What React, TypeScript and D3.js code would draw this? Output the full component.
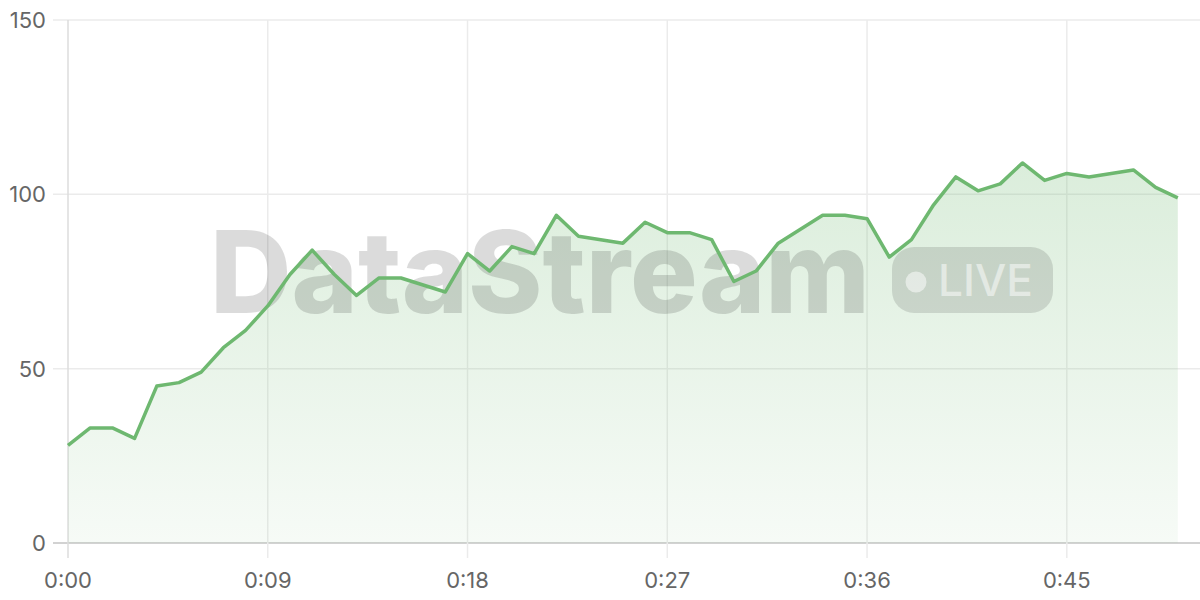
import React from "react";
import * as d3 from "d3";

const seconds: number[] = d3.range(0, 51);
const values: number[] = [
  28, 33, 33, 30, 45, 46, 49, 56, 61, 68,
  77, 84, 77, 71, 76, 76, 74, 72, 83, 78,
  85, 83, 94, 88, 87, 86, 92, 89, 89, 87,
  75, 78, 86, 90, 94, 94, 93, 82, 87, 97,
  105, 101, 103, 109, 104, 106, 105, 106, 107, 102,
  99,
];
const xTicks: number[] = [0, 9, 18, 27, 36, 45];
const yTicks: number[] = [0, 50, 100, 150];
const watermark = "DataStream";
const badge = "LIVE";

const W = 1200;
const H = 600;
const FONT = "Inter, 'Noto Sans', 'DejaVu Sans', sans-serif";

function fmt(s: number): string {
  const m = Math.floor(s / 60);
  const r = s % 60;
  return `${m}:${String(r).padStart(2, "0")}`;
}

export default function App() {
  const x = d3.scaleLinear().domain([0, 51]).range([68, 1200]);
  const y = d3.scaleLinear().domain([0, 150]).range([543, 20]);
  const data = seconds.map((s, i) => ({ s, v: values[i] }));
  const line = d3
    .line<{ s: number; v: number }>()
    .x((d) => x(d.s))
    .y((d) => y(d.v));
  const area = d3
    .area<{ s: number; v: number }>()
    .x((d) => x(d.s))
    .y0(y(0))
    .y1((d) => y(d.v));
  const green = "rgb(110,184,112)";

  return (
    <div style={{ position: "fixed", left: 0, top: 0, width: W, height: H, background: "#fff" }}>
      <svg width={W} height={H} style={{ display: "block" }}>
        <defs>
          <linearGradient id="ag" x1="0" y1="0" x2="0" y2="1">
            <stop offset="0%" stopColor={green} stopOpacity={0.25} />
            <stop offset="100%" stopColor={green} stopOpacity={0.06} />
          </linearGradient>
        </defs>
        {yTicks.map((t) => (
          <line
            key={"hy" + t}
            x1={53}
            x2={1200}
            y1={y(t)}
            y2={y(t)}
            stroke={t === 0 ? "#d2d2d2" : "#ebebeb"}
            strokeWidth={t === 0 ? 2 : 1.5}
          />
        ))}
        {xTicks.map((t) => (
          <line
            key={"vx" + t}
            x1={x(t)}
            x2={x(t)}
            y1={20}
            y2={558}
            stroke={t === 0 ? "#dcdcdc" : "#ebebeb"}
            strokeWidth={1.5}
          />
        ))}
        <path d={area(data) || ""} fill="url(#ag)" />
        <text
          x={210}
          y={313}
          fontFamily={FONT}
          fontWeight={800}
          fontSize={114}
          textLength={660}
          lengthAdjust="spacingAndGlyphs"
          fill="rgba(0,0,0,0.14)"
        >
          {watermark}
        </text>
        <rect x={892} y={247} width={161} height={66} rx={22} fill="rgba(0,0,0,0.12)" />
        <circle cx={916} cy={282} r={10.5} fill="rgba(255,255,255,0.5)" />
        <text
          x={938}
          y={296}
          fontFamily={FONT}
          fontWeight={500}
          fontSize={44}
          textLength={95}
          lengthAdjust="spacingAndGlyphs"
          fill="rgba(255,255,255,0.5)"
        >
          {badge}
        </text>
        <path
          d={line(data) || ""}
          fill="none"
          stroke={green}
          strokeWidth={3.5}
          strokeLinejoin="round"
        />
        {yTicks.map((t) => (
          <text
            key={"yl" + t}
            x={46}
            y={y(t)}
            dy="0.36em"
            textAnchor="end"
            fontFamily={FONT}
            fontSize={22}
            fill="#666"
          >
            {t}
          </text>
        ))}
        {xTicks.map((t) => (
          <text
            key={"xl" + t}
            x={x(t)}
            y={588}
            textAnchor="middle"
            fontFamily={FONT}
            fontSize={22}
            fill="#666"
          >
            {fmt(t)}
          </text>
        ))}
      </svg>
    </div>
  );
}
